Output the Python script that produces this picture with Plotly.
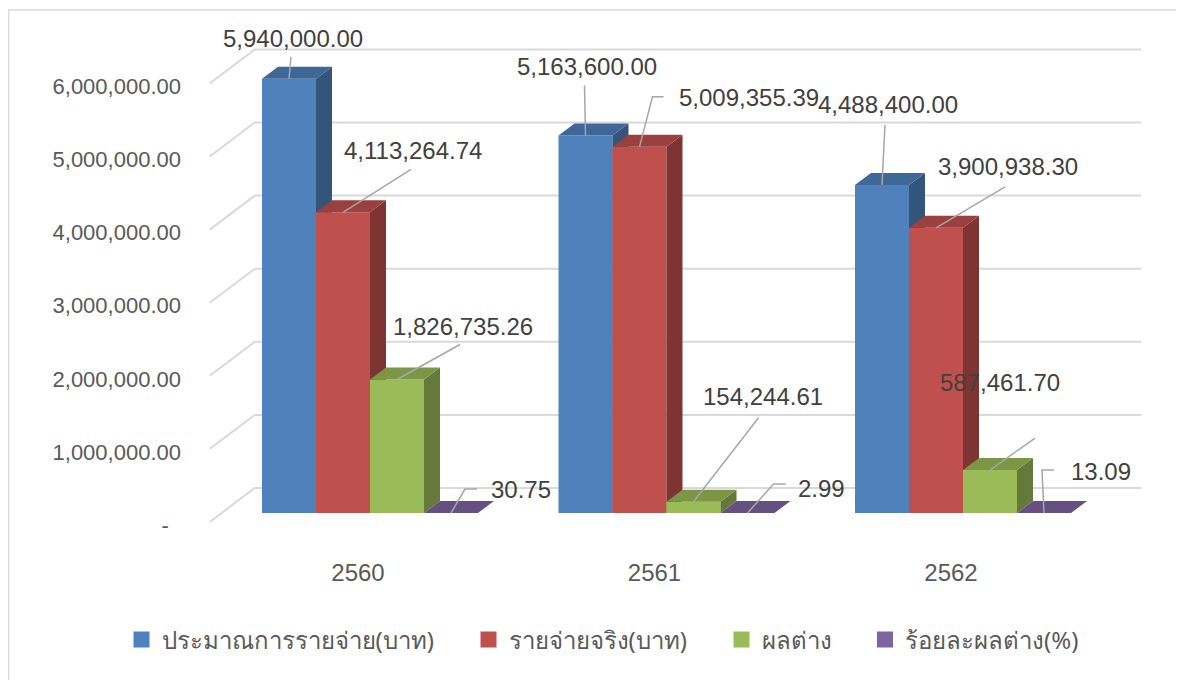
"""
Budget vs actual spending, 2560-2562 - Excel style 3D clustered columns.
"""

import plotly.graph_objects as go

# ---- data -------------------------------------------------------------
YEARS = ["2560", "2561", "2562"]
SERIES = ["ประมาณการรายจ่าย(บาท)", "รายจ่ายจริง(บาท)", "ผลต่าง", "ร้อยละผลต่าง(%)"]
BUDGET = [5940000.00, 5163600.00, 4488400.00]
ACTUAL = [4113264.74, 5009355.39, 3900938.30]
DIFF = [1826735.26, 154244.61, 587461.70]
DIFF_PCT = [30.75, 2.99, 13.09]
TICK_VALUES = [0, 1000000, 2000000, 3000000, 4000000, 5000000, 6000000]
TICK_LABELS = ["-\u00a0\u00a0", "1,000,000.00", "2,000,000.00", "3,000,000.00",
               "4,000,000.00", "5,000,000.00", "6,000,000.00"]

# ---- styling / geometry ----------------------------------------------
FRONT = ["#4F81BD", "#C0504D", "#9BBB59", "#8064A2"]
TOP = ["#3F6797", "#9A403E", "#7C9647", "#665082"]
SIDE = ["#33547B", "#7D3432", "#657A3A", "#574470"]
GRID = "#D9D9D9"
LEADER = "#A6A6A6"
TEXT = "#404040"
AXIS_TEXT = "#595959"
FONT = "Liberation Sans, Arial, sans-serif"

# page pixels (the html body has an 8px margin)
PAGE_OFF = 8
W, H = 1184 - PAGE_OFF, 680 - PAGE_OFF
PLOT_L, PLOT_R, PLOT_T, PLOT_B = 200, 1160, 20, 550
XPX = 296.5            # pixels per category
YPX = 73.1e-6          # pixels per baht
CENTER0 = 370          # page x of first group centre
BASE0 = 513            # page y of value 0 on bar front plane
BAR_W = 54 / XPX
DEPTH_X, DEPTH_Y = 16 / XPX, 12 / YPX          # bar depth
WALL_X, WALL_Y = 33 / XPX, 25 / YPX            # back wall offset
FLOOR_X, FLOOR_Y = -12 / XPX, -9 / YPX         # floor front offset

# label centre offsets from bar top (pixels), per series / year
LABEL_DX = [[4, 1, 6], [70, 109, 72], [66, 69, 10], [70, 74, 57]]
LABEL_DY = [[-40, -69, -80], [-62, -49, -61], [-53, -105, -88], [-24, -25, -42]]
# leader line elbow and end offsets (pixels)
ELBOW_DX = [[2, -1, 3], [68, 13, 69], [63, 65, 45], [14, 26, -2]]
ELBOW_DY = [[-22, -50, -60], [-43, -50, -41], [-35, -84, -32], [-24, -29, -43]]
END_DX = [[2, -1, 3], [68, 24, 69], [63, 65, 45], [26, 38, 10]]

pw, ph = PLOT_R - PLOT_L, PLOT_B - PLOT_T
x_range = [(PLOT_L - CENTER0) / XPX, (PLOT_R - CENTER0) / XPX]
y_range = [(BASE0 - PLOT_B) / YPX, (BASE0 - PLOT_T) / YPX]

fig = go.Figure()

# back wall + left wall gridlines
for v in TICK_VALUES:
    fig.add_trace(go.Scatter(
        x=[-0.5 + FLOOR_X, -0.5 + WALL_X, 2.49 + WALL_X],
        y=[v + FLOOR_Y, v + WALL_Y, v + WALL_Y],
        mode='lines', line=dict(color=GRID, width=2),
        hoverinfo='skip', showlegend=False
    ))

values = [BUDGET, ACTUAL, DIFF, DIFF_PCT]
n = len(values)

for k, vals in enumerate(values):
    fx, fy, sx, sy, tx, ty = [], [], [], [], [], []
    for i, v in enumerate(vals):
        xl = i + (k - n / 2) * BAR_W
        xr = xl + BAR_W
        fx += [xl, xr, xr, xl, xl, None]
        fy += [0, 0, v, v, 0, None]
        sx += [xr, xr + DEPTH_X, xr + DEPTH_X, xr, xr, None]
        sy += [0, DEPTH_Y, v + DEPTH_Y, v, 0, None]
        tx += [xl, xr, xr + DEPTH_X, xl + DEPTH_X, xl, None]
        ty += [v, v, v + DEPTH_Y, v + DEPTH_Y, v, None]
    for px, py, col in ((fx, fy, FRONT[k]), (sx, sy, SIDE[k]), (tx, ty, TOP[k])):
        fig.add_trace(go.Scatter(
            x=px, y=py, mode='lines', fill='toself', fillcolor=col,
            line=dict(width=0, color=col), hoverinfo='skip', showlegend=False
        ))

# leader lines and data labels
for k, vals in enumerate(values):
    lx, ly = [], []
    for i, v in enumerate(vals):
        xc = i + (k - n / 2 + 0.5) * BAR_W
        lx += [xc, xc + ELBOW_DX[k][i] / XPX, xc + END_DX[k][i] / XPX, None]
        ly += [v, v - ELBOW_DY[k][i] / YPX, v - ELBOW_DY[k][i] / YPX, None]
        fig.add_annotation(
            x=xc, y=v, text=f"{v:,.2f}", showarrow=False,
            xanchor='center', yanchor='middle',
            xshift=LABEL_DX[k][i], yshift=-LABEL_DY[k][i],
            font=dict(family=FONT, size=24, color=TEXT)
        )
    fig.add_trace(go.Scatter(
        x=lx, y=ly, mode='lines', line=dict(color=LEADER, width=1.5),
        hoverinfo='skip', showlegend=False
    ))

# legend entries, one legend box per series to keep Excel's spacing
LEGEND_SQ_X = [142.5, 489.5, 742.5, 886]
legend_y = (PLOT_B - 640) / ph
legends = {}
for k, name in enumerate(SERIES):
    key = 'legend' if k == 0 else f'legend{k + 1}'
    fig.add_trace(go.Scatter(
        x=[None], y=[None], mode='markers', name=name, legend=key,
        marker=dict(symbol='square', size=16, color=FRONT[k])
    ))
    legends[key] = dict(
        orientation='h', x=(LEGEND_SQ_X[k] - 21 - PLOT_L) / pw, xanchor='left',
        y=legend_y, yanchor='middle', bgcolor='rgba(0,0,0,0)',
        font=dict(family="Noto Sans, sans-serif", size=24, color=AXIS_TEXT),
        itemclick=False, itemdoubleclick=False
    )

fig.add_shape(
    type='rect', xref='paper', yref='paper', layer='below',
    x0=(PAGE_OFF + 0.5 - PLOT_L) / pw, x1=(1200 - PLOT_L) / pw,
    y0=(PLOT_B - 700) / ph, y1=(PLOT_B - 10) / ph,
    line=dict(color=GRID, width=1.5)
)

fig.update_layout(
    width=W, height=H,
    margin=dict(l=PLOT_L - PAGE_OFF, r=W - (PLOT_R - PAGE_OFF),
                t=PLOT_T - PAGE_OFF, b=H - (PLOT_B - PAGE_OFF)),
    paper_bgcolor='white', plot_bgcolor='white',
    showlegend=True,
    xaxis=dict(
        range=x_range, showgrid=False, zeroline=False, showline=False,
        tickvals=[i + FLOOR_X for i in range(len(YEARS))], ticktext=YEARS,
        tickfont=dict(family=FONT, size=24, color=AXIS_TEXT),
        ticklabelstandoff=6
    ),
    yaxis=dict(
        range=y_range, showgrid=False, zeroline=False, showline=False,
        tickvals=[v - 12 / YPX for v in TICK_VALUES], ticktext=TICK_LABELS,
        tickfont=dict(family=FONT, size=22, color=AXIS_TEXT),
        ticklabelstandoff=18
    ),
    **legends
)

fig.write_html("out.html")
